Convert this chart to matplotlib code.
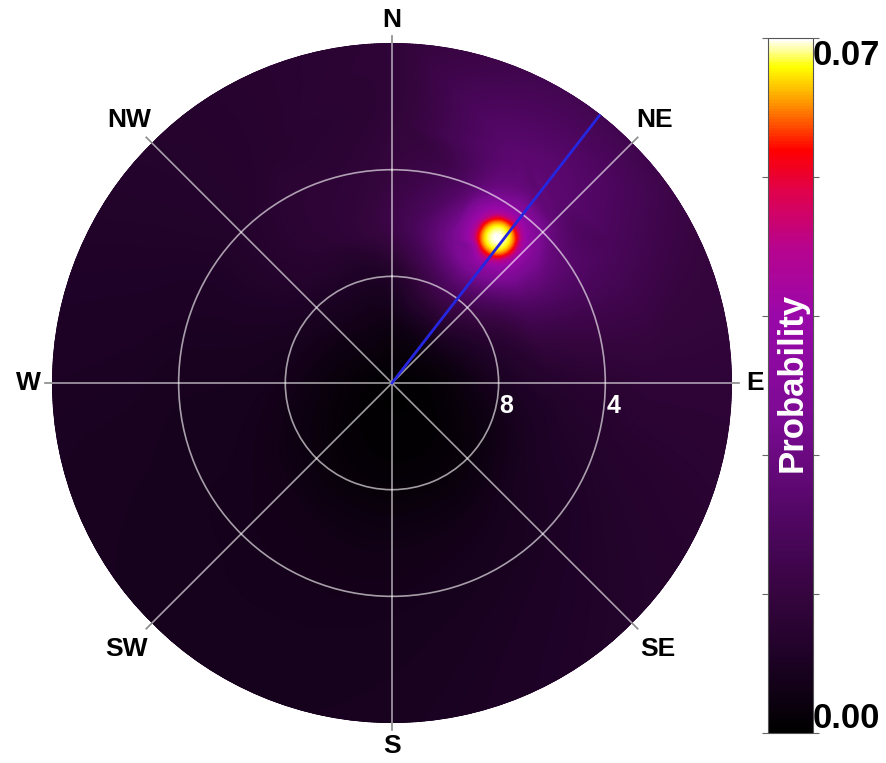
import numpy as np
import matplotlib
matplotlib.use('Agg')
import matplotlib.pyplot as plt
import matplotlib.tri as mtri
from matplotlib.colors import LinearSegmentedColormap

plt.rcParams['font.family'] = ['Liberation Sans', 'DejaVu Sans']

# radial scale: 12 at the centre, falling towards the rim
R_CENTRE = 12.0
R_EDGE = -0.75
P_MAX = 0.07

# probability sampled on rings (azimuth in degrees, clockwise from north)
ring_az = [0, 30, 60, 90, 120, 150, 180, 210, 240, 270, 300, 330]
ring_r = [10, 8, 6, 4, 2, -1.5]
ring_p = [
    [0.0035, 0.0045, 0.0040, 0.0020, 0.0012, 0.0008, 0.0008, 0.0010, 0.0015, 0.0022, 0.0032, 0.0038],
    [0.0085, 0.0190, 0.0120, 0.0065, 0.0035, 0.0020, 0.0018, 0.0022, 0.0035, 0.0050, 0.0065, 0.0075],
    [0.0160, 0.0400, 0.0220, 0.0095, 0.0068, 0.0048, 0.0042, 0.0045, 0.0052, 0.0060, 0.0078, 0.0110],
    [0.0140, 0.0330, 0.0220, 0.0110, 0.0080, 0.0062, 0.0052, 0.0052, 0.0055, 0.0062, 0.0078, 0.0110],
    [0.0125, 0.0240, 0.0190, 0.0120, 0.0090, 0.0072, 0.0058, 0.0055, 0.0058, 0.0068, 0.0082, 0.0100],
    [0.0120, 0.0160, 0.0140, 0.0120, 0.0100, 0.0082, 0.0065, 0.0060, 0.0062, 0.0072, 0.0086, 0.0100],
]
centre_p = 0.0008

# the peak and its falloff (distance from the peak in radial units)
spot_az = 36.0
spot_r = 5.25
spot_peak = 0.070
spot_dist = [0.25, 0.48, 0.72, 0.95, 1.35]
spot_p = [0.069, 0.066, 0.058, 0.046, 0.036]

# wider glow around the peak
glow_az = [22, 40, 55, 48, 36, 22, 20, 68, 60]
glow_r = [6.2, 7.4, 5.2, 3.4, 3.1, 4.15, 7.85, 3.55, 7.3]
glow_p = [0.030, 0.024, 0.027, 0.024, 0.026, 0.024, 0.017, 0.018, 0.015]

bearing_az = 37.8

compass = ['N', 'NE', 'E', 'SE', 'S', 'SW', 'W', 'NW']
compass_r = [-1.6, -1.95, -1.6, -2.1, -1.6, -2.1, -1.65, -1.95]
r_ticks = [8, 4]
r_label_az = [101.4, 96.0]
r_label_r = [7.62, 3.66]

cmap_pos = [0.0, 0.10, 0.20, 0.30, 0.45, 0.60, 0.70, 0.78, 0.84, 0.91, 0.96, 1.0]
cmap_col = ['#000000', '#1c0224', '#36053f', '#4e0660', '#7a0a92', '#9a08aa',
            '#b8048e', '#e0024c', '#ff0000', '#ff9a00', '#ffff00', '#ffffff']
cmap = LinearSegmentedColormap.from_list('prob', list(zip(cmap_pos, cmap_col)))


def to_xy(az_deg, r):
    a = np.deg2rad(np.asarray(az_deg, float))
    rho = R_CENTRE - np.asarray(r, float)
    return rho * np.sin(a), rho * np.cos(a)


# collect sample nodes in plane coordinates
AZ, RR = np.meshgrid(ring_az, ring_r)
x, y = to_xy(AZ, RR)
xs, ys, ps = [x.ravel()], [y.ravel()], [np.array(ring_p).ravel()]

xs.append(np.array([0.0]))
ys.append(np.array([0.0]))
ps.append(np.array([centre_p]))

cx, cy = to_xy(spot_az, spot_r)
xs.append(np.array([cx]))
ys.append(np.array([cy]))
ps.append(np.array([spot_peak]))
phi = np.deg2rad(np.arange(0, 360, 45))
for d, p in zip(spot_dist, spot_p):
    xs.append(cx + d * np.cos(phi))
    ys.append(cy + d * np.sin(phi))
    ps.append(np.full(phi.size, p))

gx, gy = to_xy(glow_az, glow_r)
xs.append(gx)
ys.append(gy)
ps.append(np.array(glow_p))

xs, ys, ps = np.concatenate(xs), np.concatenate(ys), np.concatenate(ps)
tri = mtri.Triangulation(xs, ys)
interp = mtri.CubicTriInterpolator(tri, ps, kind='geom')

# fine polar mesh for drawing
theta = np.linspace(0, 2 * np.pi, 721)
rad = np.linspace(R_CENTRE, R_EDGE, 300)
TH, RG = np.meshgrid(theta, rad)
mx, my = to_xy(np.rad2deg(TH), RG)
Z = np.clip(interp(mx, my).filled(0), 0, P_MAX)

fig = plt.figure(figsize=(8.87, 7.63), dpi=100)
ax = fig.add_axes([0.0586, 0.0524, 0.7666, 0.8912], projection='polar')
ax.set_theta_zero_location('N')
ax.set_theta_direction(-1)

mesh = ax.pcolormesh(TH, RG, Z, shading='gouraud', cmap=cmap, vmin=0, vmax=P_MAX)
ax.plot([np.deg2rad(bearing_az)] * 2, [R_CENTRE, R_EDGE], color='#2626e0', lw=2.0, zorder=3)

ax.set_rlim(R_CENTRE, R_EDGE)
ax.set_rticks(r_ticks)
ax.set_yticklabels([])
angles = np.arange(0, 360, 45)
ax.set_thetagrids(angles, [''] * len(angles))
ax.tick_params(axis='x', length=0)
ax.grid(True, color='white', alpha=0.62, lw=1.2)
ax.spines['polar'].set_visible(False)

# compass labels and short grey ticks just outside the rim
for a, name, r in zip(np.deg2rad(angles), compass, compass_r):
    ax.plot([a, a], [R_EDGE, R_EDGE - 0.28], color='#8a8a8a', lw=1.2, clip_on=False)
    ax.text(a, r, name, fontsize=19, fontweight='bold', ha='center', va='center',
            clip_on=False)

for val, az, r in zip(r_ticks, r_label_az, r_label_r):
    ax.text(np.deg2rad(az), r, str(val), color='white', fontsize=18,
            fontweight='bold', ha='center', va='center', zorder=4)

cax = fig.add_axes([0.8658, 0.0393, 0.0507, 0.9109])
cb = fig.colorbar(mesh, cax=cax, ticks=np.linspace(0, P_MAX, 6))
cb.outline.set_linewidth(0.8)
cb.outline.set_edgecolor('#555555')
cax.tick_params(which='major', left=True, right=True, labelright=False,
                length=4, width=0.8, direction='out', color='#666666')
cax.text(1.0, 0.961, '0.07', transform=cax.transAxes, fontsize=25,
         fontweight='bold', ha='left', va='baseline')
cax.text(1.0, 0.007, '0.00', transform=cax.transAxes, fontsize=25,
         fontweight='bold', ha='left', va='baseline')
cax.text(0.53, 0.505, 'Probability', transform=cax.transAxes, rotation=90,
         color='white', fontsize=25, fontweight='bold', ha='center', va='center')

fig.savefig('out.png', dpi=100)
